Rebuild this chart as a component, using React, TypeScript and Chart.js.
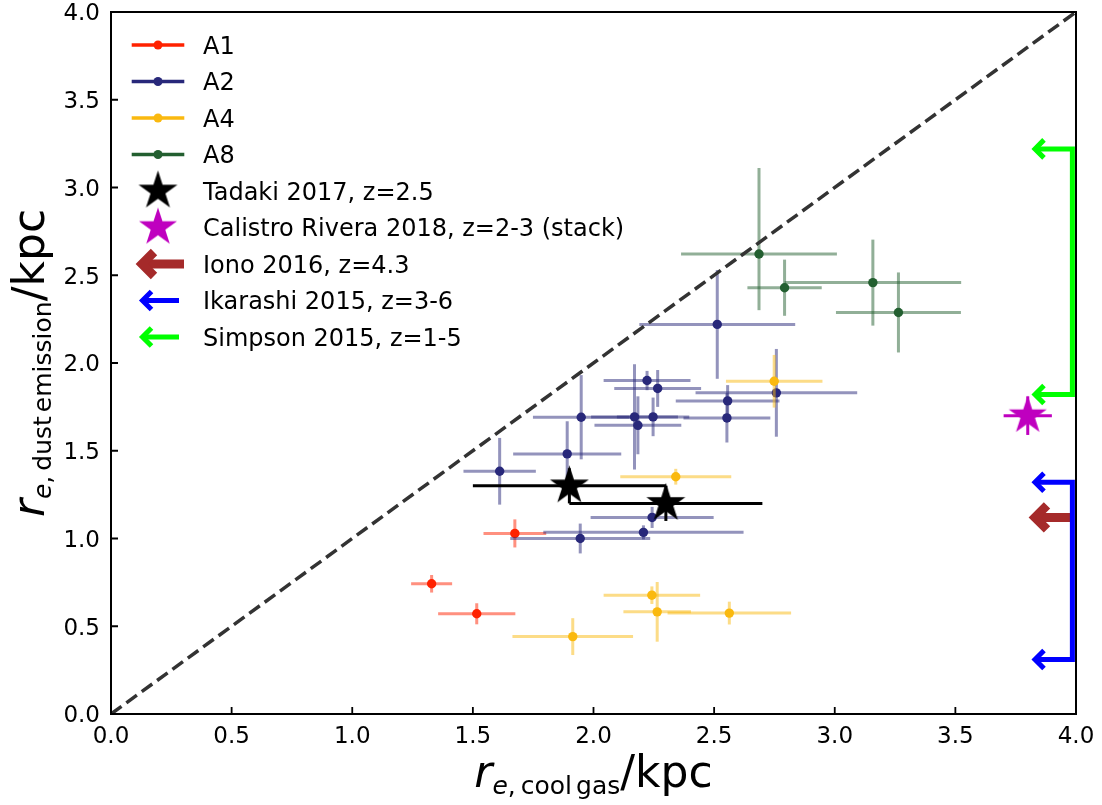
import React, { useEffect, useRef } from "react";
import { Chart, registerables } from "chart.js";

Chart.register(...registerables);

// Tick values on both axes
const xTickValues = [0, 0.5, 1, 1.5, 2, 2.5, 3, 3.5, 4];
const yTickValues = [0, 0.5, 1, 1.5, 2, 2.5, 3, 3.5, 4];

// A1
const a1X = [1.329, 1.516, 1.674];
const a1Y = [0.742, 0.571, 1.029];
const a1XErr = [0.085, 0.16, 0.13];
const a1YErr = [0.05, 0.06, 0.08];

// A2
const a2X = [2.513, 2.758, 2.556, 2.553, 2.222, 2.266, 1.949, 2.17, 2.247, 2.184, 1.891, 1.611, 2.243, 2.207, 1.945];
const a2Y = [2.22, 1.83, 1.784, 1.687, 1.9, 1.855, 1.691, 1.693, 1.693, 1.645, 1.482, 1.383, 1.12, 1.035, 1.0];
const a2XErr = [0.323, 0.335, 0.215, 0.18, 0.18, 0.18, 0.2, 0.18, 0.15, 0.18, 0.224, 0.15, 0.255, 0.415, 0.29];
const a2YErr = [0.31, 0.25, 0.09, 0.14, 0.055, 0.105, 0.24, 0.3, 0.11, 0.165, 0.186, 0.19, 0.06, 0.04, 0.085];

// A4
const a4X = [2.749, 2.341, 1.914, 2.242, 2.264, 2.563];
const a4Y = [1.896, 1.352, 0.441, 0.677, 0.582, 0.575];
const a4XErr = [0.2, 0.23, 0.25, 0.2, 0.14, 0.256];
const a4YErr = [0.15, 0.045, 0.105, 0.05, 0.17, 0.065];

// A8
const a8X = [2.686, 2.792, 3.158, 3.264];
const a8Y = [2.621, 2.429, 2.458, 2.288];
const a8XErr = [0.323, 0.154, 0.366, 0.259];
const a8YErrLow = [0.32, 0.16, 0.245, 0.228];
const a8YErrHigh = [0.49, 0.16, 0.245, 0.228];

// Tadaki 2017
const tadakiX = [1.9, 2.3];
const tadakiY = [1.3, 1.2];
const tadakiXErr = [0.4, 0.4];
const tadakiYErr = [0.1, 0.1];

// Calistro Rivera 2018 (stack)
const calistroX = [3.8];
const calistroY = [1.7];
const calistroXErr = [0.1];
const calistroYErr = [0.11];

// Upper limits on the gas size (left-pointing arrows)
const limitBaseX = 3.985;
const limitTipX = 3.83;
const simpsonRange = [1.82, 3.22];
const ikarashiRange = [0.31, 1.32];
const ionoValues = [1.12];

const seriesLabels = [
  "A1",
  "A2",
  "A4",
  "A8",
  "Tadaki 2017, z=2.5",
  "Calistro Rivera 2018, z=2-3 (stack)",
  "Iono 2016, z=4.3",
  "Ikarashi 2015, z=3-6",
  "Simpson 2015, z=1-5",
];

const FONT = "'DejaVu Sans', 'Liberation Sans', sans-serif";

const RED = "rgb(255,34,0)";
const NAVY = "rgb(40,40,122)";
const GOLD = "rgb(250,185,15)";
const GREEN = "rgb(35,95,48)";
const MAGENTA = "#bf00bf";
const LIME = "#00ff00";
const BLUE = "#0000ff";
const BROWN = "#a52a2a";

type Pt = { x: number; y: number; xMin: number; xMax: number; yMin: number; yMax: number };

function withErrors(xs: number[], ys: number[], xErr: number[], yLo: number[], yHi: number[] = yLo): Pt[] {
  return xs.map((x, i) => ({
    x,
    y: ys[i],
    xMin: x - xErr[i],
    xMax: x + xErr[i],
    yMin: ys[i] - yLo[i],
    yMax: ys[i] + yHi[i],
  }));
}

function makeStar(color: string, R: number): HTMLCanvasElement {
  const size = Math.ceil(2 * R + 4);
  const c = document.createElement("canvas");
  c.width = size;
  c.height = size;
  const g = c.getContext("2d")!;
  const cx = size / 2;
  const cy = size / 2;
  g.beginPath();
  for (let i = 0; i < 10; i++) {
    const r = i % 2 === 0 ? R : R * 0.381966;
    const a = -Math.PI / 2 + (i * Math.PI) / 5;
    g.lineTo(cx + r * Math.cos(a), cy + r * Math.sin(a));
  }
  g.closePath();
  g.fillStyle = color;
  g.fill();
  return c;
}

function drawChevronArrow(
  ctx: CanvasRenderingContext2D,
  vertexX: number,
  y: number,
  tailX: number,
  lw: number,
  arm: number,
  color: string
) {
  ctx.save();
  ctx.strokeStyle = color;
  ctx.lineWidth = lw;
  ctx.lineJoin = "miter";
  ctx.lineCap = "butt";
  ctx.beginPath();
  ctx.moveTo(tailX, y);
  ctx.lineTo(vertexX, y);
  ctx.stroke();
  ctx.beginPath();
  ctx.moveTo(vertexX + arm, y - arm);
  ctx.lineTo(vertexX, y);
  ctx.lineTo(vertexX + arm, y + arm);
  ctx.stroke();
  ctx.restore();
}

function drawBracket(
  ctx: CanvasRenderingContext2D,
  vertexX: number,
  baseX: number,
  y1: number,
  y2: number,
  lw: number,
  arm: number,
  color: string
) {
  ctx.save();
  ctx.strokeStyle = color;
  ctx.lineWidth = lw;
  ctx.lineJoin = "miter";
  ctx.beginPath();
  ctx.moveTo(vertexX, y1);
  ctx.lineTo(baseX, y1);
  ctx.lineTo(baseX, y2);
  ctx.lineTo(vertexX, y2);
  ctx.stroke();
  ctx.restore();
  drawChevronArrow(ctx, vertexX, y1, vertexX + 1, lw, arm, color);
  drawChevronArrow(ctx, vertexX, y2, vertexX + 1, lw, arm, color);
}

type Seg = { text: string; font: string; dy: number; gap?: number };

function drawMathLabel(ctx: CanvasRenderingContext2D, segs: Seg[], startX: number) {
  let x = startX;
  for (const s of segs) {
    ctx.font = s.font;
    ctx.fillText(s.text, x, s.dy);
    x += ctx.measureText(s.text).width + (s.gap || 0);
  }
}

function measureMathLabel(ctx: CanvasRenderingContext2D, segs: Seg[]) {
  let w = 0;
  for (const s of segs) {
    ctx.font = s.font;
    w += ctx.measureText(s.text).width + (s.gap || 0);
  }
  return w;
}

const errorBarPlugin = {
  id: "errorBars",
  beforeDatasetDraw(chart: any, args: any) {
    const ds = chart.data.datasets[args.index];
    if (!ds.errColor) return;
    const { ctx, chartArea, scales } = chart;
    const sx = scales.x;
    const sy = scales.y;
    ctx.save();
    ctx.beginPath();
    ctx.rect(chartArea.left, chartArea.top, chartArea.right - chartArea.left, chartArea.bottom - chartArea.top);
    ctx.clip();
    ctx.strokeStyle = ds.errColor;
    ctx.lineWidth = ds.errWidth;
    ctx.lineCap = "butt";
    for (const p of ds.data as Pt[]) {
      const px = sx.getPixelForValue(p.x);
      const py = sy.getPixelForValue(p.y);
      ctx.beginPath();
      ctx.moveTo(sx.getPixelForValue(p.xMin), py);
      ctx.lineTo(sx.getPixelForValue(p.xMax), py);
      ctx.stroke();
      ctx.beginPath();
      ctx.moveTo(px, sy.getPixelForValue(p.yMin));
      ctx.lineTo(px, sy.getPixelForValue(p.yMax));
      ctx.stroke();
    }
    ctx.restore();
  },
};

function makeOverlayPlugin(blackStar: HTMLCanvasElement, magentaStar: HTMLCanvasElement) {
  return {
    id: "overlay",
    afterDatasetsDraw(chart: any) {
      const { ctx, scales } = chart;
      const sx = scales.x;
      const sy = scales.y;
      const vx = sx.getPixelForValue(limitTipX);
      const bx = sx.getPixelForValue(limitBaseX);
      // Iono 2016
      for (const v of ionoValues) {
        drawChevronArrow(ctx, vx, sy.getPixelForValue(v), bx, 9, 12, BROWN);
      }
      // Ikarashi 2015
      drawBracket(ctx, vx, bx, sy.getPixelForValue(ikarashiRange[1]), sy.getPixelForValue(ikarashiRange[0]), 5, 9, BLUE);
      // Simpson 2015
      drawBracket(ctx, vx, bx, sy.getPixelForValue(simpsonRange[1]), sy.getPixelForValue(simpsonRange[0]), 5, 9, LIME);
    },
    afterDraw(chart: any) {
      const { ctx, chartArea, scales } = chart;
      const sx = scales.x;
      const sy = scales.y;
      const { left, right, top, bottom } = chartArea;
      ctx.save();

      // frame
      ctx.strokeStyle = "#000";
      ctx.lineWidth = 2;
      ctx.strokeRect(left, top, right - left, bottom - top);

      // inward ticks
      ctx.lineWidth = 1.8;
      ctx.beginPath();
      for (const v of xTickValues) {
        const px = sx.getPixelForValue(v);
        ctx.moveTo(px, bottom);
        ctx.lineTo(px, bottom - 7);
      }
      for (const v of yTickValues) {
        const py = sy.getPixelForValue(v);
        ctx.moveTo(left, py);
        ctx.lineTo(left + 7, py);
      }
      ctx.stroke();

      // tick labels
      ctx.fillStyle = "#000";
      ctx.font = `23px ${FONT}`;
      ctx.textBaseline = "alphabetic";
      ctx.textAlign = "center";
      for (const v of xTickValues) {
        ctx.fillText(v.toFixed(1), sx.getPixelForValue(v), bottom + 29);
      }
      ctx.textAlign = "right";
      for (const v of yTickValues) {
        ctx.fillText(v.toFixed(1), left - 11, sy.getPixelForValue(v) + 8.4);
      }

      // axis titles
      ctx.textAlign = "left";
      const big = `44px ${FONT}`;
      const bigIt = `italic 44px ${FONT}`;
      const sub = `25px ${FONT}`;
      const subIt = `italic 25px ${FONT}`;
      const xSegs: Seg[] = [
        { text: "r", font: bigIt, dy: 0 },
        { text: "e", font: subIt, dy: 7 },
        { text: ",", font: sub, dy: 7, gap: 5 },
        { text: "cool", font: sub, dy: 7, gap: 4 },
        { text: "gas", font: sub, dy: 7 },
        { text: "/kpc", font: big, dy: 0 },
      ];
      const ySegs: Seg[] = [
        { text: "r", font: bigIt, dy: 0 },
        { text: "e", font: subIt, dy: 7 },
        { text: ",", font: sub, dy: 7, gap: 5 },
        { text: "dust", font: sub, dy: 7, gap: 4 },
        { text: "emission", font: sub, dy: 7 },
        { text: "/kpc", font: big, dy: 0 },
      ];
      const cx = (left + right) / 2;
      const cy = (top + bottom) / 2;
      const xw = measureMathLabel(ctx, xSegs);
      ctx.save();
      ctx.translate(0, 787);
      drawMathLabel(ctx, xSegs, cx - xw / 2);
      ctx.restore();
      const yw = measureMathLabel(ctx, ySegs);
      ctx.save();
      ctx.translate(44, cy);
      ctx.rotate(-Math.PI / 2);
      drawMathLabel(ctx, ySegs, -yw / 2);
      ctx.restore();

      // legend
      const rowY = (i: number) => 45 + i * 36.5;
      const hx0 = 131.7;
      const hx1 = 184.3;
      const hmx = 158;
      const lineColors = [RED, NAVY, GOLD, GREEN];
      lineColors.forEach((c, i) => {
        const y = rowY(i);
        ctx.strokeStyle = c;
        ctx.lineWidth = 3.5;
        ctx.beginPath();
        ctx.moveTo(hx0, y);
        ctx.lineTo(hx1, y);
        ctx.stroke();
        ctx.fillStyle = c;
        ctx.beginPath();
        ctx.arc(hmx, y, 4.5, 0, Math.PI * 2);
        ctx.fill();
      });
      ctx.drawImage(blackStar, hmx - blackStar.width / 2, rowY(4) - blackStar.height / 2);
      ctx.drawImage(magentaStar, hmx - magentaStar.width / 2, rowY(5) - magentaStar.height / 2);
      drawChevronArrow(ctx, 142, rowY(6), 184, 9, 12, BROWN);
      drawChevronArrow(ctx, 142.5, rowY(7), 179, 5, 9, BLUE);
      drawChevronArrow(ctx, 142.5, rowY(8), 179, 5, 9, LIME);

      ctx.fillStyle = "#000";
      ctx.font = `24px ${FONT}`;
      ctx.textAlign = "left";
      seriesLabels.forEach((t, i) => {
        ctx.fillText(t, 203, rowY(i) + 8.7);
      });

      ctx.restore();
    },
  };
}

export default function App() {
  const canvasRef = useRef<HTMLCanvasElement | null>(null);

  useEffect(() => {
    document.body.style.margin = "0";
    const canvas = canvasRef.current;
    if (!canvas) return;
    const blackStar = makeStar("#000000", 20.5);
    const magentaStar = makeStar(MAGENTA, 20);

    const datasets: any[] = [
      {
        type: "line",
        label: "one-to-one",
        data: [
          { x: 0, y: 0 },
          { x: 4, y: 4 },
        ],
        borderColor: "#333333",
        borderWidth: 3.5,
        borderDash: [13, 6],
        pointRadius: 0,
        fill: false,
        order: 0,
      },
      {
        label: seriesLabels[0],
        data: withErrors(a1X, a1Y, a1XErr, a1YErr),
        backgroundColor: RED,
        pointRadius: 4.7,
        pointBorderWidth: 0,
        errColor: "rgba(255,34,0,0.5)",
        errWidth: 3,
        order: 6,
      },
      {
        label: seriesLabels[1],
        data: withErrors(a2X, a2Y, a2XErr, a2YErr),
        backgroundColor: NAVY,
        pointRadius: 4.7,
        pointBorderWidth: 0,
        errColor: "rgba(40,40,122,0.5)",
        errWidth: 3,
        order: 5,
      },
      {
        label: seriesLabels[2],
        data: withErrors(a4X, a4Y, a4XErr, a4YErr),
        backgroundColor: GOLD,
        pointRadius: 4.7,
        pointBorderWidth: 0,
        errColor: "rgba(250,185,15,0.5)",
        errWidth: 3,
        order: 4,
      },
      {
        label: seriesLabels[3],
        data: withErrors(a8X, a8Y, a8XErr, a8YErrLow, a8YErrHigh),
        backgroundColor: GREEN,
        pointRadius: 4.7,
        pointBorderWidth: 0,
        errColor: "rgba(35,95,48,0.5)",
        errWidth: 3,
        order: 3,
      },
      {
        label: seriesLabels[4],
        data: withErrors(tadakiX, tadakiY, tadakiXErr, tadakiYErr),
        pointStyle: blackStar,
        errColor: "#000000",
        errWidth: 3,
        order: 2,
      },
      {
        label: seriesLabels[5],
        data: withErrors(calistroX, calistroY, calistroXErr, calistroYErr),
        pointStyle: magentaStar,
        errColor: MAGENTA,
        errWidth: 3,
        order: 1,
      },
    ];

    const chart = new Chart(canvas, {
      type: "scatter",
      data: { datasets },
      options: {
        responsive: false,
        animation: false,
        devicePixelRatio: 1,
        events: [],
        layout: { padding: { left: 111, top: 12, right: 26, bottom: 91 } },
        scales: {
          x: { type: "linear", min: 0, max: 4, display: false },
          y: { type: "linear", min: 0, max: 4, display: false },
        },
        plugins: {
          legend: { display: false },
          tooltip: { enabled: false },
        },
      },
      plugins: [errorBarPlugin, makeOverlayPlugin(blackStar, magentaStar)],
    } as any);

    return () => chart.destroy();
  }, []);

  return (
    <div style={{ width: 1102, height: 805 }}>
      <canvas ref={canvasRef} width={1102} height={805} style={{ display: "block" }} />
    </div>
  );
}
